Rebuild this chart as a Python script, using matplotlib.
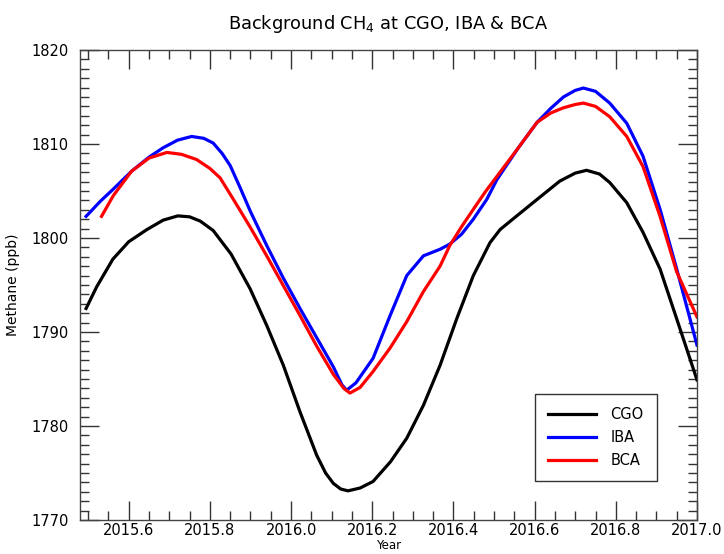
import matplotlib
matplotlib.use("Agg")
import matplotlib.pyplot as plt
from matplotlib.ticker import MultipleLocator, FormatStrFormatter

# Background methane (ppb) at three stations
cgo_year = [2015.495, 2015.521, 2015.561, 2015.600, 2015.645, 2015.685, 2015.721, 2015.750,
            2015.776, 2015.808, 2015.852, 2015.899, 2015.940, 2015.981, 2016.022, 2016.063,
            2016.085, 2016.104, 2016.122, 2016.140, 2016.170, 2016.202, 2016.245, 2016.285,
            2016.326, 2016.367, 2016.408, 2016.449, 2016.490, 2016.515, 2016.556, 2016.606,
            2016.662, 2016.700, 2016.728, 2016.760, 2016.785, 2016.827, 2016.867, 2016.909,
            2016.950, 2017.000]
cgo_ch4 = [1792.5, 1794.8, 1797.75, 1799.6, 1800.9, 1801.9, 1802.35, 1802.25,
           1801.8, 1800.8, 1798.3, 1794.6, 1790.7, 1786.45, 1781.5, 1776.9,
           1775.0, 1773.9, 1773.3, 1773.1, 1773.4, 1774.1, 1776.2, 1778.7,
           1782.2, 1786.45, 1791.4, 1796.0, 1799.5, 1800.9, 1802.35, 1804.1,
           1806.05, 1806.9, 1807.2, 1806.8, 1805.9, 1803.75, 1800.6, 1796.7,
           1791.4, 1784.9]

iba_year = [2015.495, 2015.530, 2015.562, 2015.607, 2015.650, 2015.685, 2015.720, 2015.755,
            2015.785, 2015.808, 2015.830, 2015.850, 2015.874, 2015.900, 2015.940, 2015.980,
            2016.022, 2016.063, 2016.104, 2016.125, 2016.137, 2016.160, 2016.202, 2016.244,
            2016.285, 2016.326, 2016.367, 2016.391, 2016.420, 2016.449, 2016.482, 2016.507,
            2016.560, 2016.606, 2016.640, 2016.671, 2016.700, 2016.720, 2016.750, 2016.785,
            2016.827, 2016.867, 2016.909, 2016.950, 2017.000]
iba_ch4 = [1802.3, 1803.9, 1805.2, 1807.1, 1808.6, 1809.6, 1810.4, 1810.8,
           1810.6, 1810.1, 1809.0, 1807.7, 1805.4, 1802.8, 1799.2, 1795.8,
           1792.5, 1789.4, 1786.3, 1784.4, 1783.8, 1784.6, 1787.2, 1791.75,
           1796.0, 1798.1, 1798.8, 1799.35, 1800.4, 1802.0, 1804.1, 1806.2,
           1809.6, 1812.3, 1813.8, 1815.0, 1815.7, 1815.95, 1815.6, 1814.35,
           1812.2, 1808.7, 1803.05, 1796.7, 1788.6]

bca_year = [2015.533, 2015.562, 2015.607, 2015.650, 2015.694, 2015.730, 2015.767, 2015.800,
            2015.825, 2015.858, 2015.900, 2015.940, 2015.980, 2016.022, 2016.063, 2016.104,
            2016.130, 2016.145, 2016.170, 2016.202, 2016.244, 2016.285, 2016.326, 2016.367,
            2016.391, 2016.420, 2016.449, 2016.480, 2016.507, 2016.560, 2016.606, 2016.640,
            2016.671, 2016.700, 2016.720, 2016.750, 2016.785, 2016.827, 2016.867, 2016.909,
            2016.950, 2017.000]
bca_ch4 = [1802.3, 1804.5, 1807.1, 1808.5, 1809.1, 1808.9, 1808.35, 1807.4,
           1806.4, 1804.1, 1801.1, 1798.1, 1795.0, 1791.75, 1788.5, 1785.5,
           1784.0, 1783.5, 1784.1, 1785.8, 1788.3, 1791.1, 1794.3, 1797.0,
           1799.2, 1801.2, 1803.05, 1805.0, 1806.55, 1809.6, 1812.3, 1813.3,
           1813.85, 1814.2, 1814.35, 1814.0, 1812.9, 1810.8, 1807.6, 1802.3,
           1796.4, 1791.6]

series = [("CGO", cgo_year, cgo_ch4, "black"),
          ("IBA", iba_year, iba_ch4, "#0000ff"),
          ("BCA", bca_year, bca_ch4, "#ff0000")]

plt.rcParams["font.family"] = "DejaVu Sans"

fig = plt.figure(figsize=(7.24, 5.54), dpi=100)
ax = fig.add_axes([0.1105, 0.0614, 0.8522, 0.8484])

for name, x, y, col in series:
    ax.plot(x, y, color=col, lw=2.3, label=name, solid_joinstyle="round")

ax.set_xlim(2015.48, 2017.0)
ax.set_ylim(1770, 1820)

ax.xaxis.set_major_locator(MultipleLocator(0.2))
ax.xaxis.set_minor_locator(MultipleLocator(0.05))
ax.yaxis.set_major_locator(MultipleLocator(10))
ax.yaxis.set_minor_locator(MultipleLocator(1))
ax.xaxis.set_major_formatter(FormatStrFormatter("%.1f"))

ax.tick_params(which="both", direction="in", top=True, right=True, color="#333333")
ax.tick_params(which="major", length=14, width=1.0)
ax.tick_params(which="minor", length=6.5, width=1.0)
ax.tick_params(axis="x", labelsize=10.5, pad=2.5)
ax.tick_params(axis="y", labelsize=10.5, pad=8)

for sp in ax.spines.values():
    sp.set_color("#444444")
    sp.set_linewidth(1.0)

# x label tucked right at the bottom edge of the figure
ax.set_xlabel("Year", fontsize=8.5, va="bottom")
ax.xaxis.set_label_coords(0.5, -0.0685)
ax.set_ylabel("Methane (ppb)", fontsize=10, labelpad=8)
ax.set_title("Background CH$_4$ at CGO, IBA & BCA", fontsize=12.8, pad=15)

leg = ax.legend(loc="lower right", bbox_to_anchor=(0.935, 0.083), fontsize=10.5,
                handlelength=3.3, fancybox=False, framealpha=1, edgecolor="#333333",
                borderpad=0.9, labelspacing=0.55, handletextpad=1.0, borderaxespad=0)
leg.get_frame().set_linewidth(1.0)

fig.savefig("out.png", dpi=100)
